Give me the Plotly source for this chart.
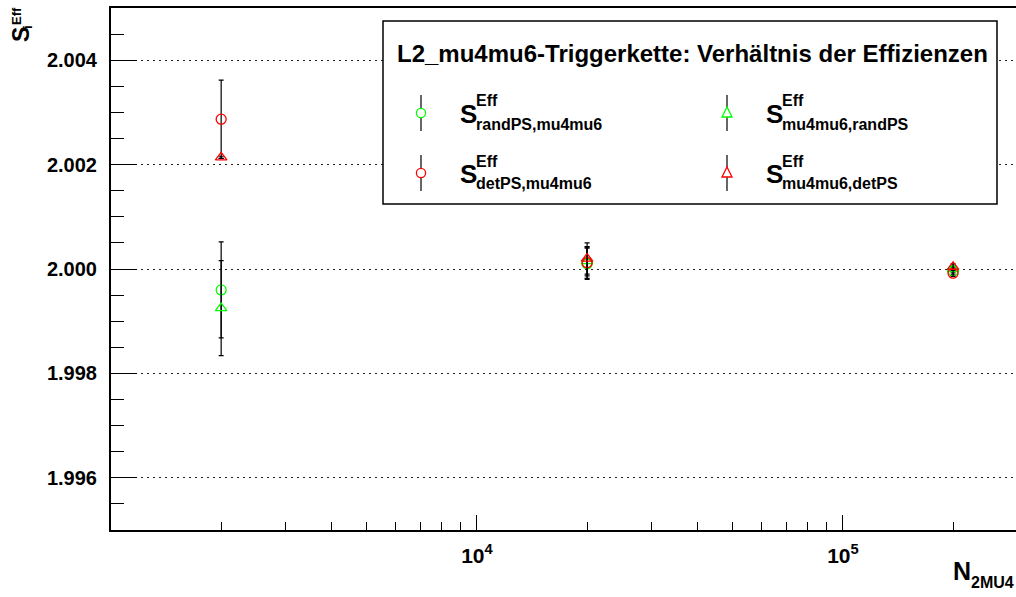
import plotly.graph_objects as go

# ---------------- data ----------------
n_events = [2000, 20000, 200000]

s_randps_mu4mu6 = [1.99960, 2.00010, 1.99996]
e_randps_mu4mu6 = [0.00092, 0.00030, 0.00006]

s_mu4mu6_randps = [1.99925, 2.00015, 2.00000]
e_mu4mu6_randps = [0.00091, 0.00028, 0.00006]

s_detps_mu4mu6 = [2.00287, 2.00012, 1.99992]
e_detps_mu4mu6 = [0.00075, 0.00030, 0.00006]

s_mu4mu6_detps = [2.00214, 2.00020, 2.00004]
e_mu4mu6_detps = [0.00002, 0.00030, 0.00006]

y_major = [1.996, 1.998, 2.000, 2.002, 2.004]
y_major_text = ["1.996", "1.998", "2.000", "2.002", "2.004"]
y_minor = [1.9955, 1.9965, 1.997, 1.9975, 1.9985, 1.999, 1.9995, 2.0005,
           2.001, 2.0015, 2.0025, 2.003, 2.0035, 2.0045]
x_major = [1e4, 1e5]
x_major_text = ["10<sup>4</sup>", "10<sup>5</sup>"]
x_minor = [2000, 3000, 4000, 5000, 6000, 7000, 8000, 9000,
           20000, 30000, 40000, 50000, 60000, 70000, 80000, 90000, 200000]

GREEN = "#00ff00"
RED = "#ff0000"
FONT = "Liberation Sans, Arial, Helvetica, sans-serif"

# plot-area pixel frame
L, R, T, B = 111, 1016, 8, 530
W, H = 1016, 597


def px(x):
    return (x - L) / (R - L)


def py(y):
    return (B - y) / (B - T)


fig = go.Figure()


def add_series(y, e, color, symbol):
    fig.add_trace(go.Scatter(
        x=n_events, y=y, mode="markers",
        marker=dict(symbol=symbol, size=10, color=color,
                    line=dict(color=color, width=1.3)),
        error_y=dict(type="data", array=e, visible=True, color="black",
                     thickness=1.2, width=2.5),
        showlegend=False,
    ))


add_series(s_randps_mu4mu6, e_randps_mu4mu6, GREEN, "circle-open")
add_series(s_mu4mu6_randps, e_mu4mu6_randps, GREEN, "triangle-up-open")
add_series(s_detps_mu4mu6, e_detps_mu4mu6, RED, "circle-open")
add_series(s_mu4mu6_detps, e_mu4mu6_detps, RED, "triangle-up-open")

shapes = []
annotations = []

# legend box
shapes.append(dict(type="rect", xref="paper", yref="paper",
                   x0=px(383), x1=px(997), y0=py(204), y1=py(21),
                   line=dict(color="black", width=1.5), fillcolor="white",
                   layer="above"))
annotations.append(dict(
    text="L2_mu4mu6-Triggerkette: Verhältnis der Effizienzen",
    xref="paper", yref="paper", x=px(692), y=py(54),
    xanchor="center", yanchor="middle", showarrow=False,
    font=dict(family=FONT, size=24, color="black", weight="bold")))

legend_entries = [
    (421, 113, GREEN, "circle", "randPS,mu4mu6"),
    (727, 113, GREEN, "triangle", "mu4mu6,randPS"),
    (421, 173, RED, "circle", "detPS,mu4mu6"),
    (727, 173, RED, "triangle", "mu4mu6,detPS"),
]
for mx, my, col, kind, sub in legend_entries:
    shapes.append(dict(type="line", xref="paper", yref="paper",
                       x0=px(mx), x1=px(mx), y0=py(my + 18), y1=py(my - 18),
                       line=dict(color="black", width=1.2), layer="above"))
    if kind == "circle":
        shapes.append(dict(type="circle", xref="paper", yref="paper",
                           x0=px(mx - 4.6), x1=px(mx + 4.6),
                           y0=py(my + 4.6), y1=py(my - 4.6),
                           line=dict(color=col, width=1.3), fillcolor="white",
                           layer="above"))
    else:
        path = "M {} {} L {} {} L {} {} Z".format(
            px(mx - 5), py(my + 4), px(mx + 5), py(my + 4), px(mx), py(my - 6))
        shapes.append(dict(type="path", xref="paper", yref="paper", path=path,
                           line=dict(color=col, width=1.3), fillcolor="white",
                           layer="above"))
    sx = mx + 37
    annotations.append(dict(text="S", xref="paper", yref="paper",
                            x=px(sx), y=py(my + 1), xanchor="left", yanchor="middle",
                            showarrow=False,
                            font=dict(family=FONT, size=26, color="black", weight="bold")))
    annotations.append(dict(text="Eff", xref="paper", yref="paper",
                            x=px(sx + 16), y=py(my - 12), xanchor="left", yanchor="middle",
                            showarrow=False,
                            font=dict(family=FONT, size=16, color="black", weight="bold")))
    annotations.append(dict(text=sub, xref="paper", yref="paper",
                            x=px(sx + 16), y=py(my + 11), xanchor="left", yanchor="middle",
                            showarrow=False,
                            font=dict(family=FONT, size=16, color="black", weight="bold")))

# y-axis title S_i^Eff (rotated)
annotations.append(dict(text="S", xref="paper", yref="paper", x=px(21), y=py(35),
                        xanchor="center", yanchor="middle", textangle=-90, showarrow=False,
                        font=dict(family=FONT, size=23, color="black", weight="bold")))
annotations.append(dict(text="Eff", xref="paper", yref="paper", x=px(16), y=py(16),
                        xanchor="center", yanchor="middle", textangle=-90, showarrow=False,
                        font=dict(family=FONT, size=13, color="black", weight="bold")))
annotations.append(dict(text="i", xref="paper", yref="paper", x=px(28), y=py(27),
                        xanchor="center", yanchor="middle", textangle=-90, showarrow=False,
                        font=dict(family=FONT, size=13, color="black", weight="bold")))

# x-axis title N_2MU4
annotations.append(dict(text="N", xref="paper", yref="paper", x=px(951), y=py(571),
                        xanchor="left", yanchor="middle", showarrow=False,
                        font=dict(family=FONT, size=25, color="black", weight="bold")))
annotations.append(dict(text="2MU4", xref="paper", yref="paper", x=px(969), y=py(582),
                        xanchor="left", yanchor="middle", showarrow=False,
                        font=dict(family=FONT, size=16, color="black", weight="bold")))

fig.update_layout(
    width=W, height=H,
    margin=dict(l=L, r=W - R, t=T, b=H - B, pad=0),
    paper_bgcolor="white", plot_bgcolor="white",
    shapes=shapes, annotations=annotations,
    showlegend=False,
    xaxis=dict(
        type="log", range=[3.0, 5.473], autorange=False,
        showgrid=False, zeroline=False,
        showline=True, linecolor="black", linewidth=2, mirror=True,
        tickmode="array", tickvals=x_major, ticktext=x_major_text,
        ticks="inside", ticklen=15, tickwidth=1, tickcolor="black",
        tickfont=dict(family=FONT, size=21, color="black", weight="bold"),
        ticklabelstandoff=6,
        minor=dict(tickmode="array", tickvals=x_minor, ticks="inside",
                   ticklen=8, tickwidth=1, tickcolor="black", showgrid=False),
    ),
    yaxis=dict(
        range=[1.995, 2.005], autorange=False,
        showgrid=True, gridcolor="#222222", gridwidth=1, griddash="2px,4px",
        zeroline=False,
        showline=True, linecolor="black", linewidth=2, mirror=False,
        tickmode="array", tickvals=y_major, ticktext=y_major_text,
        ticks="inside", ticklen=26, tickwidth=1, tickcolor="black",
        tickfont=dict(family=FONT, size=20, color="black", weight="bold"),
        ticklabelstandoff=8,
        minor=dict(tickmode="array", tickvals=y_minor, ticks="inside",
                   ticklen=13, tickwidth=1, tickcolor="black", showgrid=False),
    ),
)

fig.write_html("out.html",
               config={"displayModeBar": False},
               post_script="document.body.style.margin='0px';"
                           "document.body.style.overflow='hidden';")
